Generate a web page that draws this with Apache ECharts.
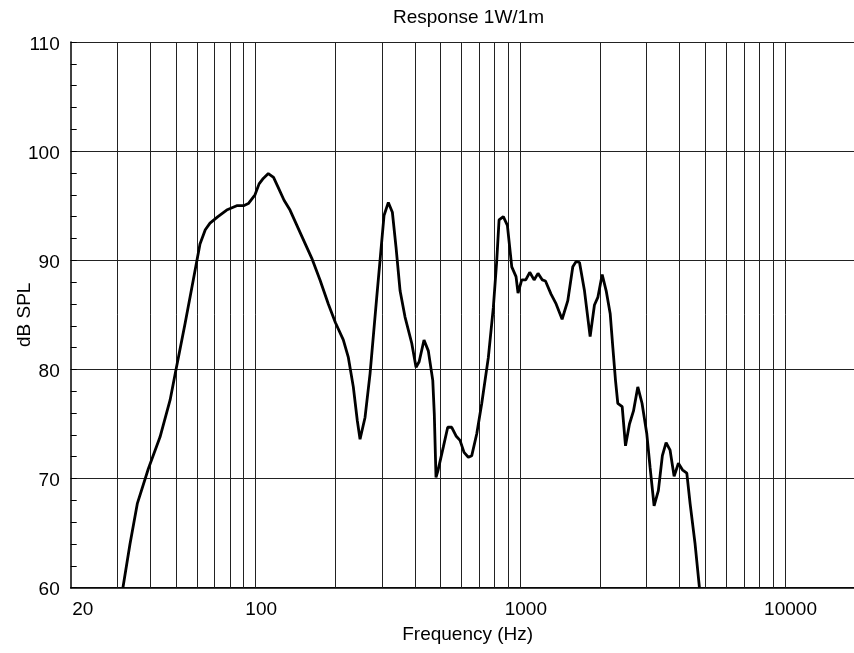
<!DOCTYPE html>
<html>
<head>
<meta charset="utf-8">
<script src="https://cdn.jsdelivr.net/npm/echarts@6/dist/echarts.min.js"></script>
<style>
html,body{margin:0;padding:0;background:#fff;}
#chart{width:854px;height:653px;}
</style>
</head>
<body>
<div id="chart"></div>
<script>
// ---- data ----
const titleText = 'Response 1W/1m';
const xName = 'Frequency (Hz)';
const yName = 'dB SPL';
const freqHz = [31.5,33.5,35.7,39.3,43.5,47.5,50,54.1,58.1,61.6,64.5,67.2,72,77.7,84.8,90,93.8,99.4,103,106.8,111.6,116.8,121,128,134.8,150,162.8,175,188.1,200,214.3,223.9,233.8,242.1,247.9,258.9,270.4,286.6,295,305.4,317.1,328.4,339,351.2,366.7,388.7,403.5,414.5,432.5,449,466.7,473,480,488,511.7,531.6,550.4,571.5,591.6,612.7,636,655.2,684.3,714.8,757,790.7,814.4,830.9,862.4,893.2,928,963,980,1012,1048,1085,1127,1166,1211,1244,1306,1365,1438,1511,1578,1625,1673,1747,1835,1905,1962,2038,2110,2185,2236,2288,2334,2425,2496,2584,2676,2778,2882,3004,3092,3201,3322,3440,3553,3679,3810,3955,4096,4255,4379,4573,4749];
const splDb = [60,64.0,67.7,70.9,73.8,77.2,80,84.2,88.2,91.5,92.8,93.4,94.0,94.6,95.0,95.0,95.2,96.0,97.0,97.5,97.95,97.6,96.8,95.5,94.6,92.1,90.2,88.2,86.0,84.3,82.7,81.1,78.4,75.3,73.6,75.6,79.6,86.6,90,94.1,95.3,94.4,91.2,87.2,84.8,82.4,80.2,80.7,82.7,81.7,79.0,75.9,70.1,70.7,72.9,74.7,74.7,73.9,73.5,72.4,71.95,72.1,74.1,76.9,81.1,85.7,90,93.7,94.0,93.2,89.4,88.5,87.0,88.2,88.2,88.9,88.2,88.8,88.2,88.1,86.9,86.0,84.6,86.3,89.4,89.9,89.8,87.2,83.0,85.9,86.6,88.7,87.2,85.1,82.0,79.0,76.9,76.6,73.0,75.0,76.2,78.4,76.9,74.1,71.0,67.5,68.9,72.1,73.3,72.6,70.2,71.4,70.8,70.5,67.7,64.0,60.0];
const xLabelValues = [20,100,1000,10000];
const xGridValues = [30,40,50,60,70,80,90,100,200,300,400,500,600,700,800,900,1000,2000,3000,4000,5000,6000,7000,8000,9000,10000];
const yMin = 60, yMax = 110, yStep = 10;
const xMin = 20, xMax = 20000;

const FONT = 'Liberation Sans, Arial, sans-serif';
const chart = echarts.init(document.getElementById('chart'), null, {renderer:'canvas'});
const points = freqHz.map((f,i)=>[f, splDb[i]]);

chart.setOption({
  animation:false,
  backgroundColor:'#fff',
  title:{
    text:titleText, left:393, top:8, padding:0,
    textStyle:{fontFamily:FONT,fontSize:19,fontWeight:'normal',color:'#000'}
  },
  grid:{left:70.7, top:42, width:794, height:545.7, containLabel:false, outerBoundsMode:'none'},
  xAxis:{
    type:'log', logBase:10, min:xMin, max:xMax,
    name:xName, nameLocation:'middle', nameGap:38, nameMoveOverlap:false,
    nameTextStyle:{fontFamily:FONT,fontSize:19,color:'#000'},
    axisLine:{show:true,lineStyle:{color:'#000',width:1.5}},
    axisTick:{show:false},
    splitLine:{show:false},
    axisLabel:{
      show:true, margin:13, showMaxLabel:false, hideOverlap:false,
      fontFamily:FONT, fontSize:19, color:'#000',
      formatter:function(v){
        if (xLabelValues.indexOf(Math.round(v))<0) return '';
        return Math.round(v)===20 ? '{a|20}' : '{b|'+Math.round(v)+'}';
      },
      rich:{
        a:{fontFamily:FONT,fontSize:19,color:'#000',padding:[0,0,0,24]},
        b:{fontFamily:FONT,fontSize:19,color:'#000',padding:[0,0,0,11]}
      }
    }
  },
  yAxis:{
    type:'value', min:yMin, max:yMax, interval:yStep,
    name:yName, nameLocation:'middle', nameGap:36, nameRotate:90, nameMoveOverlap:false,
    nameTextStyle:{fontFamily:FONT,fontSize:19,color:'#000'},
    axisLine:{show:true,lineStyle:{color:'#000',width:1.5}},
    axisTick:{show:true,inside:true,length:6,lineStyle:{color:'#000'}},
    minorTick:{show:true,splitNumber:5,length:6,lineStyle:{color:'#000'}},
    splitLine:{show:true,lineStyle:{color:'#222',width:1}},
    axisLabel:{
      margin:11, fontFamily:FONT, fontSize:19, color:'#000',
      formatter:function(v){return '{c|'+v+'}';},
      rich:{c:{fontFamily:FONT,fontSize:19,color:'#000',padding:[5,0,0,0]}}
    }
  },
  series:[
    {
      type:'line', data:[], z:1, silent:true,
      markLine:{
        silent:true, symbol:['none','none'], label:{show:false},
        lineStyle:{color:'#222',width:1,type:'solid'},
        emphasis:{disabled:true},
        data:xGridValues.map(v=>({xAxis:v}))
      }
    },
    {
      type:'line', data:points, z:5, showSymbol:false, smooth:false,
      lineStyle:{color:'#000',width:2.8}, clip:true
    }
  ]
});
</script>
</body>
</html>
